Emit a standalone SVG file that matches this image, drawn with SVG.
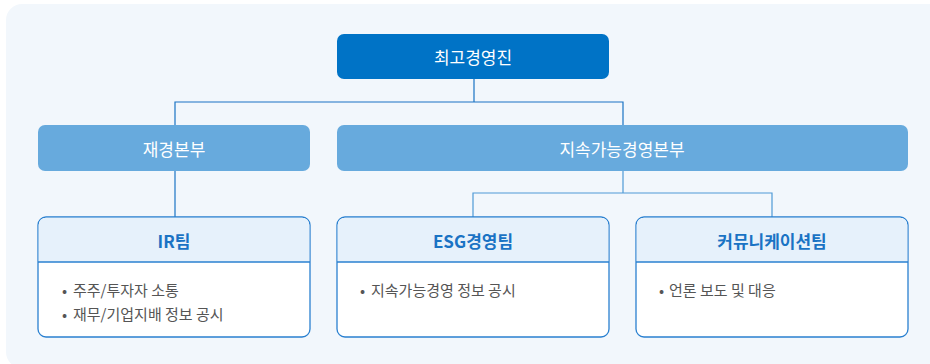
<svg xmlns="http://www.w3.org/2000/svg" width="930" height="364" viewBox="0 0 930 364">
<style>
text{font-family:"Noto Sans CJK KR","Noto Sans",sans-serif}
.top{fill:#0073c6}
.mid{fill:#67aadd}
.wt{fill:#ffffff;font-size:17px;text-anchor:middle;dominant-baseline:central}
.team{fill:#ffffff;stroke:#2a80d0;stroke-width:1.3}
.hdr{fill:#e6f1fb}
.ttl{fill:#1a73c4;font-size:17px;font-weight:bold;text-anchor:middle;dominant-baseline:central}
.bul{fill:#555555;font-size:15px;dominant-baseline:central}
.c1{stroke:#1a73c4;stroke-width:1.2;fill:none}
.c2{stroke:#4f9ad6;stroke-width:1.2;fill:none}
</style>
<rect x="6" y="4" width="944" height="364" rx="16" fill="#f2f7fc"/>
<g id="connectors">
<path class="c1" d="M474 79V102M175 126V102H623V126"/>
<path class="c1" d="M175 171V217"/>
<path class="c2" d="M623 171V193M473 217V193H772V217"/>
</g>
<g id="ceo">
<rect class="top" x="337" y="34" width="272" height="45" rx="7"/>
<text class="wt" x="473" y="56">최고경영진</text>
</g>
<g id="finance">
<rect class="mid" x="38" y="125" width="272" height="46" rx="7"/>
<text class="wt" x="174" y="148">재경본부</text>
</g>
<g id="sustain">
<rect class="mid" x="337" y="125" width="571" height="46" rx="7"/>
<text class="wt" x="622" y="148">지속가능경영본부</text>
</g>
<g id="ir">
<rect class="team" x="38" y="217" width="272" height="120" rx="8"/>
<path class="hdr" d="M46 217.7H302A7.3 7.3 0 0 1 309.3 225V262H38.7V225A7.3 7.3 0 0 1 46 217.7Z"/>
<path class="team" d="M38 262H310"/>
<text class="ttl" x="174" y="240">IR팀</text>
<text class="bul" x="62" y="289">•</text>
<text class="bul" x="73" y="289">주주/투자자 소통</text>
<text class="bul" x="62" y="313">•</text>
<text class="bul" x="73" y="313">재무/기업지배 정보 공시</text>
</g>
<g id="esg">
<rect class="team" x="337" y="217" width="272" height="120" rx="8"/>
<path class="hdr" d="M345 217.7H601A7.3 7.3 0 0 1 608.3 225V262H337.7V225A7.3 7.3 0 0 1 345 217.7Z"/>
<path class="team" d="M337 262H609"/>
<text class="ttl" x="473" y="240">ESG경영팀</text>
<text class="bul" x="360" y="289">•</text>
<text class="bul" x="371" y="289">지속가능경영 정보 공시</text>
</g>
<g id="comm">
<rect class="team" x="636" y="217" width="272" height="120" rx="8"/>
<path class="hdr" d="M644 217.7H900A7.3 7.3 0 0 1 907.3 225V262H636.7V225A7.3 7.3 0 0 1 644 217.7Z"/>
<path class="team" d="M636 262H908"/>
<text class="ttl" x="772" y="240">커뮤니케이션팀</text>
<text class="bul" x="659" y="289">•</text>
<text class="bul" x="669" y="289">언론 보도 및 대응</text>
</g>
</svg>
